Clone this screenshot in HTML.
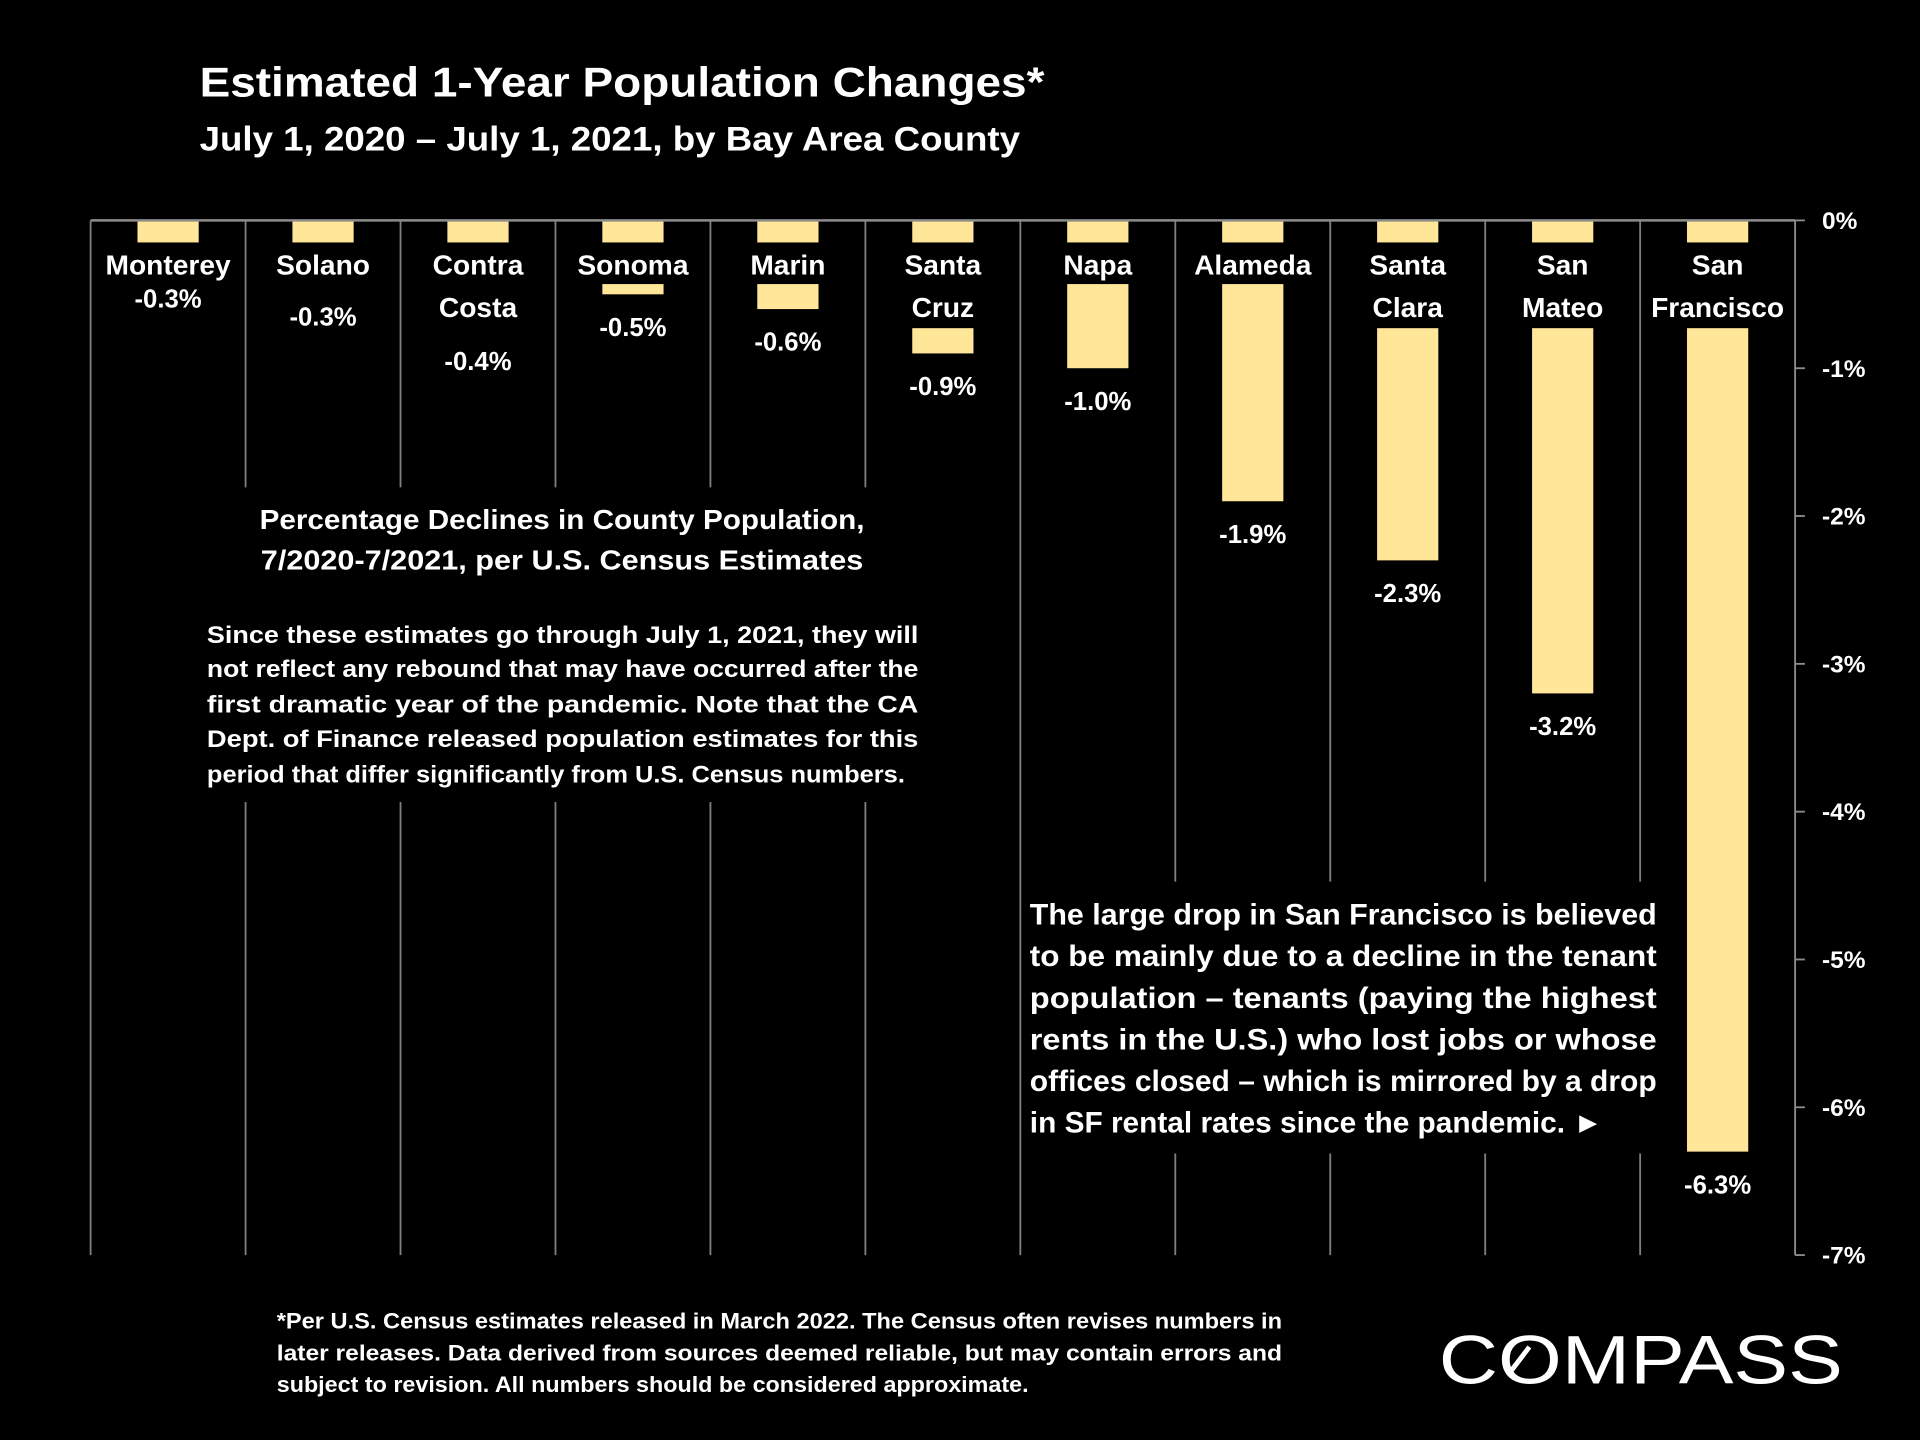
<!DOCTYPE html>
<html><head><meta charset="utf-8">
<style>
html,body{margin:0;padding:0;background:#000;}
svg{display:block;}
text{font-family:"Liberation Sans",sans-serif;font-weight:bold;fill:#fff;}
</style></head>
<body>
<svg id="chart" width="1920" height="1440" viewBox="0 0 1568 1176" xmlns="http://www.w3.org/2000/svg">
<rect width="1568" height="1176" fill="#000"/>
<text x="163" y="79" font-size="34" textLength="690" lengthAdjust="spacingAndGlyphs">Estimated 1-Year Population Changes*</text>
<text x="163" y="123" font-size="28" textLength="670" lengthAdjust="spacingAndGlyphs">July 1, 2020 – July 1, 2021, by Bay Area County</text>
<g id="grid"></g>
<g id="bars"></g>
<g id="labels"></g>
<g id="yaxis"></g>

<g>
<rect x="165" y="398" width="590" height="257" fill="#000"/>
<text x="459" y="432" font-size="23" text-anchor="middle" textLength="494" lengthAdjust="spacingAndGlyphs">Percentage Declines in County Population,</text>
<text x="459" y="465" font-size="23" text-anchor="middle" textLength="492" lengthAdjust="spacingAndGlyphs">7/2020-7/2021, per U.S. Census Estimates</text>
<g font-size="19.5">
<text x="169" y="525" textLength="581" lengthAdjust="spacingAndGlyphs">Since these estimates go through July 1, 2021, they will</text>
<text x="169" y="553" textLength="581" lengthAdjust="spacingAndGlyphs">not reflect any rebound that may have occurred after the</text>
<text x="169" y="582" textLength="581" lengthAdjust="spacingAndGlyphs">first dramatic year of the pandemic. Note that the CA</text>
<text x="169" y="610" textLength="581" lengthAdjust="spacingAndGlyphs">Dept. of Finance released population estimates for this</text>
<text x="169" y="639" textLength="570" lengthAdjust="spacingAndGlyphs">period that differ significantly from U.S. Census numbers.</text>
</g></g>

<g>
<rect x="835" y="720" width="525" height="222" fill="#000"/>
<g font-size="24">
<text x="841" y="755" textLength="512" lengthAdjust="spacingAndGlyphs">The large drop in San Francisco is believed</text>
<text x="841" y="789" textLength="512" lengthAdjust="spacingAndGlyphs">to be mainly due to a decline in the tenant</text>
<text x="841" y="823" textLength="512" lengthAdjust="spacingAndGlyphs">population – tenants (paying the highest</text>
<text x="841" y="857" textLength="512" lengthAdjust="spacingAndGlyphs">rents in the U.S.) who lost jobs or whose</text>
<text x="841" y="891" textLength="512" lengthAdjust="spacingAndGlyphs">offices closed – which is mirrored by a drop</text>
<text x="841" y="925" textLength="468" lengthAdjust="spacingAndGlyphs">in SF rental rates since the pandemic. ►</text>
</g></g>

<g font-size="18">
<text x="226" y="1085" textLength="821" lengthAdjust="spacingAndGlyphs">*Per U.S. Census estimates released in March 2022. The Census often revises numbers in</text>
<text x="226" y="1111" textLength="821" lengthAdjust="spacingAndGlyphs">later releases. Data derived from sources deemed reliable, but may contain errors and</text>
<text x="226" y="1137" textLength="614" lengthAdjust="spacingAndGlyphs">subject to revision.  All numbers should be considered approximate.</text>
</g>
<text x="1175" y="1130" font-size="56" style="font-weight:normal" textLength="330" lengthAdjust="spacingAndGlyphs">COMPASS</text>
<line x1="1233" y1="1121" x2="1249" y2="1100" stroke="#fff" stroke-width="4"/>
</svg>
<script>
const categories = [["Monterey"],["Solano"],["Contra","Costa"],["Sonoma"],["Marin"],["Santa","Cruz"],["Napa"],["Alameda"],["Santa","Clara"],["San","Mateo"],["San","Francisco"]];
const values = [-0.3,-0.3,-0.4,-0.5,-0.6,-0.9,-1.0,-1.9,-2.3,-3.2,-6.3];
const valueLabels = ["-0.3%","-0.3%","-0.4%","-0.5%","-0.6%","-0.9%","-1.0%","-1.9%","-2.3%","-3.2%","-6.3%"];
const tickValues = [0,-1,-2,-3,-4,-5,-6,-7];
const tickLabels = ["0%","-1%","-2%","-3%","-4%","-5%","-6%","-7%"];

const NS="http://www.w3.org/2000/svg";
const X0=74, X1=1466, Y0=180, Y1=1025, YMIN=-7;
const bandW=(X1-X0)/categories.length;
function y(v){return Y0+(v/YMIN)*(Y1-Y0);}
function xc(i){return X0+bandW*(i+0.5);}
function mk(tag,attrs,parent){const e=document.createElementNS(NS,tag);for(const k in attrs)e.setAttribute(k,attrs[k]);parent.appendChild(e);return e;}
const grid=document.getElementById('grid'),bars=document.getElementById('bars'),labels=document.getElementById('labels'),yaxis=document.getElementById('yaxis');

for(let k=0;k<categories.length;k++){
  const l=mk('line',{x1:X0+bandW*k,x2:X0+bandW*k,y1:Y0,y2:Y1,stroke:'#7f7f7f','stroke-width':1.5},grid);
  
  
}
const zeroLine=mk('line',{x1:X0,x2:X1,y1:Y0,y2:Y0,stroke:'#8c8c8c','stroke-width':2},yaxis);


const ax=mk('line',{x1:X1,x2:X1,y1:Y0,y2:Y1,stroke:'#8c8c8c','stroke-width':1.5},yaxis);


tickValues.forEach((t,i)=>{
  const tk=mk('line',{x1:X1,x2:X1+8,y1:y(t),y2:y(t),stroke:'#8c8c8c','stroke-width':1.5},yaxis);
  
  
  const tx=mk('text',{x:1488,y:y(t)+7,'font-size':20},yaxis);
  tx.textContent=tickLabels[i];
  
  
});

values.forEach((v,i)=>{
  const cx=xc(i);
  const b=mk('rect',{x:cx-25,y:Y0,width:50,height:y(v)-Y0,fill:'#FFE699'},bars);
  
  
  const lines=categories[i];
  const boxBottom=lines.length===1?232:268;
  const bg=mk('rect',{x:cx-60,y:198,width:120,height:boxBottom-198,fill:'#000'},labels);
  
  
  lines.forEach((ln,j)=>{
    const t=mk('text',{x:cx,y:224+35*j,'font-size':23,'text-anchor':'middle'},labels);
    t.textContent=ln;
    
    
  });
  let vy=Math.max(y(v),boxBottom)+26;
  if(i===0) vy=243;
  const vt=mk('text',{x:cx,y:vy+8,'font-size':21,'text-anchor':'middle'},labels);
  vt.textContent=valueLabels[i];
  
  
});
</script>
</body></html>
